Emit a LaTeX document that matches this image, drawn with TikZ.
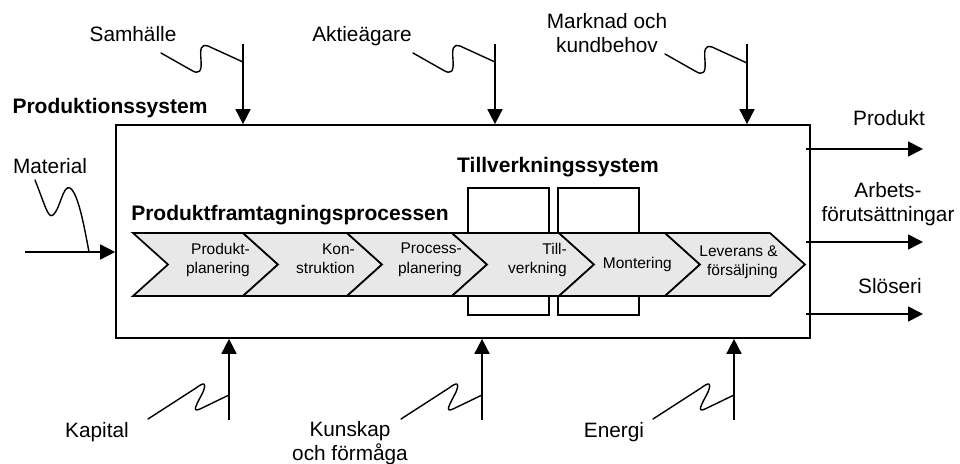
\documentclass[tikz,border=0pt]{standalone}
\usepackage{fontspec}
\setmainfont{Liberation Sans}
\usetikzlibrary{arrows.meta}
\begin{document}
\begin{tikzpicture}[x=1pt,y=-1pt,
  frame/.style={draw, line width=1.7pt, inner sep=0pt},
  flow/.style={line width=1.7pt, -{Triangle[length=15pt,width=15pt]}},
  wiggle/.style={line width=1.4pt, line cap=round, line join=round},
  lbl/.style={font=\fontsize{20.8}{24}\selectfont, align=center, inner sep=0pt},
  heading/.style={font=\fontsize{21}{24}\selectfont\bfseries, inner sep=0pt, anchor=base},
  stage/.style={draw, line width=1.7pt, fill=gray!18, line join=miter},
  stagetext/.style={font=\fontsize{15.5}{19.5}\selectfont, align=right, inner sep=0pt, anchor=east},
  cell/.style={draw, line width=1.7pt, fill=white, inner sep=0pt}
]
\useasboundingbox (0,0) rectangle (960,463);

% production system frame
\node[frame, minimum width=694pt, minimum height=213pt] (sys) at (463,231.5) {};

% manufacturing system cells (behind the process chain)
\node[cell, minimum width=81pt, minimum height=127pt] (cellA) at (508.5,251.5) {};
\node[cell, minimum width=81pt, minimum height=127pt] (cellB) at (598.5,251.5) {};

% process chain of chevrons
\foreach \xl/\xr in {133/243, 243/347, 347/452, 452/559, 559/665, 665/770}{
  \draw[stage] (\xl,233) -- (\xr,233) -- (\xr+35,264.5) -- (\xr,296)
               -- (\xl,296) -- (\xl+35,264.5) -- cycle;
}
\node[stagetext] (st1) at (250,260) {Produkt-\\planering};
\node[stagetext] (st2) at (355,258.5) {Kon-\\struktion};
\node[stagetext] (st3) at (462,260) {Process-\\planering};
\node[stagetext] (st4) at (567,260) {Till-\\verkning};
\node[font=\fontsize{15.5}{19.5}\selectfont, inner sep=0pt, anchor=base east] (st5) at (672,268) {Montering};
\node[stagetext] (st6) at (778,262) {Leverans \&\\försäljning};

% headings
\node[heading] (hSys) at (110,113) {Produktionssystem};
\node[heading] (hProc) at (290,220) {Produktframtagningsprocessen};
\node[heading] (hMfg) at (558,172) {Tillverkningssystem};

% inputs from above
\node[lbl, anchor=base] (lSam) at (133,41) {Samhälle};
\node[lbl, anchor=base] (lAkt) at (362,41) {Aktieägare};
\node[lbl] (lMar) at (607,33) {Marknad och\\kundbehov};
\coordinate (tSam) at (243,44);
\coordinate (tAkt) at (495,44);
\coordinate (tMar) at (747,44);
\foreach \t in {tSam,tAkt,tMar}{
  \draw[flow] (\t) -- (\t |- sys.north);
}
\foreach \jx/\jy in {243/62, 495/62, 747/63}{
  \draw[wiggle, shift={(\jx,\jy)}] (-82,-9) -- (-52,8)
    .. controls (-44,13) and (-41,10) .. (-42,-2)
    .. controls (-43,-14) and (-42,-18) .. (-35,-16) -- (0,0);
}

% material input
\node[lbl, anchor=base] (lMat) at (50,173) {Material};
\coordinate (tMat) at (25,252);
\draw[flow] (tMat) -- (tMat -| sys.west);
\draw[wiggle] (35,180) .. controls (45,205) and (48,219) .. (53,215)
  .. controls (60,210) and (63,184) .. (70,188)
  .. controls (78,193) and (84,225) .. (89,252);

% inputs from below
\node[lbl, anchor=base] (lKap) at (97,437) {Kapital};
\node[lbl] (lKun) at (350,443) {Kunskap\\och förmåga};
\node[lbl, anchor=base] (lEne) at (614,437) {Energi};
\coordinate (bKap) at (229,420);
\coordinate (bKun) at (482,420);
\coordinate (bEne) at (734,420);
\foreach \b in {bKap,bKun,bEne}{
  \draw[flow] (\b) -- (\b |- sys.south);
}
\foreach \jx/\jy in {229/395, 482/395, 734/395}{
  \draw[wiggle, shift={(\jx,\jy)}] (-81,24) -- (-33,-7)
    .. controls (-25,-13) and (-22,-13) .. (-26,-3)
    .. controls (-32,9) and (-38,18) .. (-29,14) -- (0,0);
}

% outputs
\node[lbl, anchor=base] (lPro) at (889,125) {Produkt};
\node[lbl] (lArb) at (888,204) {Arbets-\\förutsättningar};
\node[lbl, anchor=base] (lSlo) at (890,293) {Slöseri};
\coordinate (oPro) at (923,149);
\coordinate (oArb) at (923,242);
\coordinate (oSlo) at (923,314);
\foreach \o in {oPro,oArb,oSlo}{
  \draw[flow] ([xshift=-5pt]\o -| sys.east) -- (\o);
}
\end{tikzpicture}
\end{document}
